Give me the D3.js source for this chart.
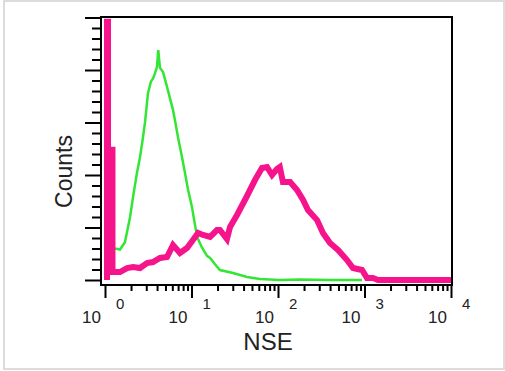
<!DOCTYPE html>
<html><head><meta charset="utf-8">
<script src="https://cdn.jsdelivr.net/npm/d3@7"></script>
<style>html,body{margin:0;padding:0;background:#fff;}svg{display:block;font-family:"Liberation Sans",Arial,sans-serif;}</style>
</head><body>
<svg id="c" width="505" height="371"></svg>
<script>
// Green histogram (NSE intensity, counts)
const greenNSE = [1.14,1.30,1.49,1.70,1.95,2.11,2.34,2.54,2.75,2.90,3.14,3.40,3.59,3.79,3.99,4.13,4.32,4.69,5.21,5.64,6.11,6.45,6.98,7.77,8.41,9.12,10.1,11.0,11.6,13.2,15.1,16.4,18.7,21.3,30.2,43.8,61.9,105,180,399,936];
const greenCounts = [32,30,29,36,60,79,102,117,136,150,178,189,192,197,203,219,202,198,184,173,162,152,136,117,102,86,70,52,41,31,23,21,15,9.5,6.7,2.9,1,0,0.5,0,0];
// Magenta histogram (NSE intensity, counts)
const magentaNSE = [1.055,1.055,1.083,1.083,1.22,1.22,1.49,1.80,2.11,2.54,3.06,3.59,4.32,5.21,6.11,7.36,8.87,10.4,11.9,13.6,16.4,19.7,21.3,25.7,27.9,33.6,43.8,54.2,65.3,74.6,85.3,97.3,105,114,138,166,195,222,283,331,399,494,628,736,936,1069,1254,1432,10540];
const magentaCounts = [0,246,246,124,124,7.6,7.6,11.4,12.4,11.4,16.2,17.1,21,21.9,33.3,25.7,30.5,38.1,44.8,42.9,41,47.6,47.6,39,50.5,61.9,80,95.2,106.7,107.6,100,105.7,107.6,93.3,93.3,85.7,76.2,66.7,57.1,44.8,35.2,28.6,19,11.4,9.5,1.9,1.9,0,0];
// Axis tick labels
const xExponents = [0,1,2,3,4];
const xBase = "10";
const xTitle = "NSE";
const yTitle = "Counts";

const svg = d3.select("#c");
const L = 101, R = 452, T = 17, B = 285;

// outer frame
svg.append("rect").attr("x",4).attr("y",1).attr("width",500).attr("height",368)
  .attr("fill","#fff").attr("stroke","#dcdcdc").attr("stroke-width",2);

const x = d3.scaleLog().domain([Math.pow(10,-4/86.5), Math.pow(10,4+1/86.5)]).range([L, R]);
const y = d3.scaleLinear().domain([-(B-280)/1.05, (280-T)/1.05]).range([B, T]);

// plot box
svg.append("rect").attr("x",L).attr("y",T).attr("width",R-L).attr("height",B-T)
  .attr("fill","#fff").attr("stroke","#000").attr("stroke-width",2);

// x axis ticks
const xMinor = [];
for (let e=0;e<4;e++) for (let m=2;m<=9;m++) xMinor.push(m*Math.pow(10,e));
const xMajor = xExponents.map(e=>Math.pow(10,e));
function styleAxis(g){ g.select(".domain").remove(); g.selectAll("line").attr("stroke","#000").attr("stroke-width",2); g.selectAll("text").remove(); }
svg.append("g").attr("transform",`translate(0,${B})`)
  .call(d3.axisBottom(x).tickValues(xMinor).tickSize(6).tickSizeOuter(0)).call(styleAxis);
svg.append("g").attr("transform",`translate(0,${B})`)
  .call(d3.axisBottom(x).tickValues(xMajor).tickSize(13).tickSizeOuter(0)).call(styleAxis);

// y axis ticks
const yMinor = d3.range(0, 251, 10).filter(v=>v%50!==0);
const yMajor = d3.range(0, 251, 50);
svg.append("g").attr("transform",`translate(${L-1},0)`)
  .call(d3.axisLeft(y).tickValues(yMinor).tickSize(8).tickSizeOuter(0)).call(styleAxis);
svg.append("g").attr("transform",`translate(${L-1},0)`)
  .call(d3.axisLeft(y).tickValues(yMajor).tickSize(15).tickSizeOuter(0)).call(styleAxis);

// x tick labels: 10 with exponent
const lab = svg.append("g").attr("fill","#222");
xExponents.forEach(e=>{
  const px = x(Math.pow(10,e));
  lab.append("text").attr("x",px-4).attr("y",323).attr("text-anchor","end")
    .attr("font-size",17).text(xBase);
  lab.append("text").attr("x",px+11).attr("y",309).attr("text-anchor","start")
    .attr("font-size",15).text(e);
});

// titles
lab.append("text").attr("x",268).attr("y",350).attr("text-anchor","middle").attr("font-size",24).text(xTitle);
lab.append("text").attr("transform","translate(72,171.5) rotate(-90)").attr("text-anchor","middle").attr("font-size",23).text(yTitle);

// curves
const line = d3.line().x(d=>x(d[0])).y(d=>y(d[1]));
svg.append("clipPath").attr("id","pc").append("rect").attr("x",L+1).attr("y",T+1).attr("width",R-L-2).attr("height",B-T-2);
const plot = svg.append("g").attr("clip-path","url(#pc)");
plot.append("path").datum(d3.zip(greenNSE, greenCounts)).attr("d",line)
  .attr("fill","none").attr("stroke","#33e633").attr("stroke-width",2.5);
plot.append("path").datum(d3.zip(magentaNSE, magentaCounts)).attr("d",line)
  .attr("fill","none").attr("stroke","#f5148c").attr("stroke-width",6).attr("stroke-linejoin","miter");
</script>
</body></html>
